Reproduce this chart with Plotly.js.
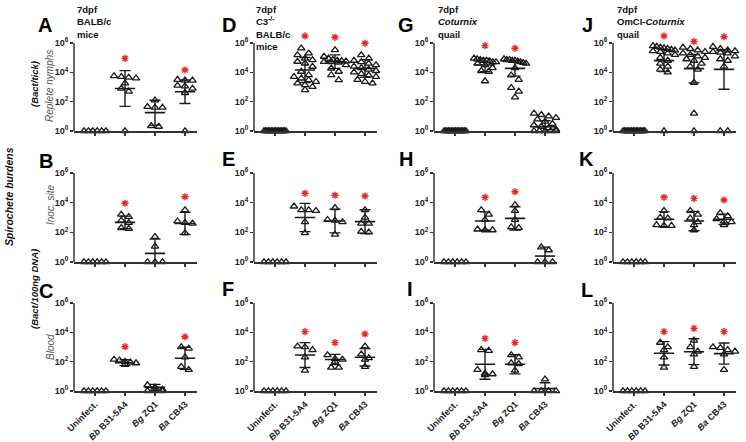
<!DOCTYPE html>
<html><head><meta charset="utf-8">
<script src="https://cdn.plot.ly/plotly-3.0.1.min.js"></script>
<style>html,body{margin:0;padding:0;background:#fff}#chart{width:746px;height:442px}</style>
</head><body><div id="chart"></div>
<script>
// ---------- labels ----------
const categories = ['Uninfect.', '<i>Bb</i> B31-5A4', '<i>Bg</i> ZQ1', '<i>Ba</i> CB43'];
const yTickVals = [1, 1e2, 1e4, 1e6];
const yTickText = ['10<sup>0</sup>', '10<sup>2</sup>', '10<sup>4</sup>', '10<sup>6</sup>'];
const panelLetters = ['A','B','C','D','E','F','G','H','I','J','K','L'];
const columnTitles = ['7dpf<br>BALB/c<br>mice', '7dpf<br>C3<sup>-/-</sup><br>BALB/c<br>mice', '7dpf<br><i>Coturnix</i><br>quail', '7dpf<br>OmCI-<i>Coturnix</i><br>quail'];
const rowTitles = ['Replete nymphs', 'Inoc. site', 'Blood'];

// ---------- data: log10 spirochete burden per animal, categories [Uninfect, Bb, Bg, Ba] ----------
const ptsA = [[0,0,0,0,0,0],[3.75,3.7,3.65,3.6,3.25,2.9,2.7,0],[2.1,1.65,1.6,1.6,0.35,0.3],[3.5,3.45,3.45,3.1,3.05,2.9,2.6,0]];
const ptsB = [[0,0,0,0,0,0],[3.2,3.05,2.8,2.65,2.3,2.25],[1.7,1.05,0,0,0],[3.5,2.75,2.65,2.6,1.95]];
const ptsC = [[0,0,0,0,0,0],[2.15,2.1,2.0,1.95,1.9,1.8],[0.4,0.25,0.1,0,0,0],[3.0,2.9,2.3,1.65,1.45]];
const ptsD = [[0,0,0,0,0,0,0,0,0,0,0,0,0,0,0,0],[5.64,5.3,5.18,4.95,4.84,4.73,4.61,4.39,4.05,3.82,3.7,3.59,3.48,3.36,3.25,3.14,3.02,2.8],[5.52,5.07,4.95,4.85,4.8,4.78,4.75,4.72,4.7,4.68,4.5,4.27,4.05,3.82,3.48],[5.18,4.95,4.8,4.7,4.6,4.5,4.4,4.3,4.2,4.1,4.0,3.9,3.8,3.7,3.5,3.36,3.25]];
const ptsE = [[0,0,0,0,0,0],[3.75,3.5,3.5,3.45,2.7,1.95],[3.65,2.85,2.8,2.7,1.85],[3.5,3.0,2.6,2.6,2.05,2.0]];
const ptsF = [[0,0,0,0,0,0],[3.05,3.0,2.8,2.3,1.4],[2.45,2.2,2.15,2.0,1.6,1.6],[3.05,2.5,2.25,2.15,1.65]];
const ptsG = [[0,0,0,0,0,0,0,0,0,0,0,0,0,0,0,0],[4.95,4.9,4.85,4.8,4.8,4.75,4.7,4.7,4.6,4.5,4.3,4.1,4.05,3.4],[4.9,4.85,4.85,4.8,4.8,4.75,4.7,4.65,4.6,4.3,3.8,3.5,2.95,2.7,2.3],[1.2,1.1,1.0,0.9,0.8,0.65,0.5,0.4,0.3,0.2,0.1,0,0,0,0,0]];
const ptsH = [[0,0,0,0,0,0],[3.5,3.2,2.85,2.2,2.15,2.15],[3.85,3.45,2.85,2.35,2.3],[1.0,0.8,0,0,0]];
const ptsI = [[0,0,0,0,0,0],[2.8,2.75,1.45,1.2,1.15,1.1],[2.45,2.3,1.9,1.85,1.4],[0.8,0,0,0,0]];
const ptsJ = [[0,0,0,0,0,0,0,0,0,0,0,0,0,0,0,0],[5.8,5.75,5.7,5.65,5.6,5.55,5.5,5.45,5.4,5.3,5.2,5.0,4.8,4.6,4.4,4.2,4.0,0],[5.7,5.6,5.5,5.4,5.3,5.2,5.1,5.0,4.9,4.8,4.6,4.4,4.2,3.3,1.2,0],[5.75,5.6,5.5,5.45,5.4,5.35,5.3,5.1,4.9,4.8,4.4,0,0]];
const ptsK = [[0,0,0,0,0,0],[3.45,3.0,2.95,2.5,2.45,2.45],[3.45,3.2,2.95,2.7,2.5,2.15],[3.3,3.1,2.9,2.75,2.7,2.5]];
const ptsL = [[0,0,0,0,0,0],[3.3,3.0,2.8,2.3,1.6],[3.45,3.0,2.7,2.5,1.65],[3.0,2.95,2.8,2.7,2.5,1.45]];

// geometric mean (log10) and SD (log10) as drawn
const meanA = [null,2.9,1.25,2.68],  sdA = [null,1.22,0.85,0.8];
const meanB = [null,2.67,0.58,2.6],  sdB = [null,0.42,0.97,0.75];
const meanC = [null,1.93,0.25,2.23], sdC = [null,0.2,0.2,0.75];
const meanD = [null,4.16,4.73,4.27], sdD = [null,0.85,0.46,0.6];
const meanE = [null,3.0,2.76,2.72],  sdE = [null,0.95,0.8,0.8];
const meanF = [null,2.45,2.15,2.3],  sdF = [null,0.85,0.35,0.6];
const meanG = [null,4.5,4.27,0.3],   sdG = [null,0.45,0.53,0.4];
const meanH = [null,2.76,2.94,0.4],  sdH = [null,0.62,0.78,0.6];
const meanI = [null,1.82,1.82,0.16], sdI = [null,1.02,0.65,0.4];
const meanJ = [null,4.8,4.25,4.2],   sdJ = [null,0.75,0.97,1.35];
const meanK = [null,2.88,2.76,2.88], sdK = [null,0.5,0.65,0.35];
const meanL = [null,2.57,2.68,2.55], sdL = [null,0.8,0.88,0.72];

// significance asterisks (log10 height)
const starA = [null,4.95,null,4.16];
const starB = [null,3.96,null,4.4];
const starC = [null,3.02,null,3.7];
const starD = [null,6.48,6.39,5.98];
const starE = [null,4.63,4.5,4.45];
const starF = [null,4.05,3.3,3.89];
const starG = [null,5.82,5.64,null];
const starH = [null,4.36,4.74,null];
const starI = [null,3.59,3.3,null];
const starJ = [null,6.48,6.1,6.43];
const starK = [null,4.36,4.29,4.18];
const starL = [null,4.05,4.27,4.05];

const panelPts = [ptsA,ptsB,ptsC,ptsD,ptsE,ptsF,ptsG,ptsH,ptsI,ptsJ,ptsK,ptsL];
const panelMean = [meanA,meanB,meanC,meanD,meanE,meanF,meanG,meanH,meanI,meanJ,meanK,meanL];
const panelSd = [sdA,sdB,sdC,sdD,sdE,sdF,sdG,sdH,sdI,sdJ,sdK,sdL];
const panelStar = [starA,starB,starC,starD,starE,starF,starG,starH,starI,starJ,starK,starL];

// ---------- geometry ----------
const W = 746, H = 442;
const colLeft = [74, 254, 434, 613];
const axW = 123;
const rowTop = [43, 173, 303];   // pixel of 10^6
const rowBot = [131, 262, 391];  // pixel of 10^0
const yMaxLog = 6.8;             // headroom above 10^6 for asterisks
const xRange = [-0.7, 3.4];
const pxPerCat = axW / (xRange[1] - xRange[0]);
const FONT = 'Liberation Sans, Arial, sans-serif';
const INK = '#1a1a1a';

function swarm(vals, pxPerDec) {
  const idx = vals.map((v, i) => i).sort((a, b) => vals[b] - vals[a]);
  const off = new Array(vals.length).fill(0);
  let bins = [], cur = [];
  idx.forEach(i => {
    if (cur.length && (vals[cur[0]] - vals[i]) * pxPerDec > 5) { bins.push(cur); cur = []; }
    cur.push(i);
  });
  if (cur.length) bins.push(cur);
  bins.forEach(b => {
    const n = b.length;
    const s = n > 1 ? Math.min(7.5, 22 / (n - 1)) : 0;
    b.forEach((i, k) => { off[i] = (k - (n - 1) / 2) * s / pxPerCat; });
  });
  return off;
}

const traces = [];
const layout = {
  width: W, height: H, margin: {l:0, r:0, t:0, b:0},
  paper_bgcolor: '#fff', plot_bgcolor: '#fff', showlegend: false,
  annotations: [], shapes: []
};

for (let k = 0; k < 12; k++) {
  const c = Math.floor(k / 3), r = k % 3;
  const n = k + 1;
  const xa = n === 1 ? 'x' : 'x' + n, ya = n === 1 ? 'y' : 'y' + n;
  const pxPerDec = (rowBot[r] - rowTop[r]) / 6;
  const topPx = rowBot[r] - yMaxLog * pxPerDec;
  layout['xaxis' + (n === 1 ? '' : n)] = {
    domain: [colLeft[c] / W, (colLeft[c] + axW) / W],
    range: xRange, anchor: ya, showgrid: false, zeroline: false,
    showline: true, linecolor: '#333', linewidth: 1.5,
    tickmode: 'array', tickvals: [0,1,2,3], ticktext: categories,
    ticks: 'outside', ticklen: 3, tickwidth: 1.2, tickcolor: '#333',
    showticklabels: r === 2, tickangle: -45,
    tickfont: {family: FONT, size: 9, color: '#222', weight: 'bold'}
  };
  layout['yaxis' + (n === 1 ? '' : n)] = {
    domain: [1 - rowBot[r] / H, 1 - topPx / H],
    type: 'log', range: [0, yMaxLog], anchor: xa, showgrid: false, zeroline: false,
    showline: false,
    tickmode: 'array', tickvals: yTickVals, ticktext: yTickText,
    ticks: 'outside', ticklen: 3, tickwidth: 1.2, tickcolor: '#333',
    tickfont: {family: FONT, size: 9, color: '#222', weight: 'bold'}
  };
  // y axis line from 10^0 to 10^6 only
  layout.shapes.push({type:'line', xref: xa + ' domain', x0:0, x1:0, yref:'paper',
    y0: 1 - rowBot[r] / H, y1: 1 - rowTop[r] / H, line:{color:'#333', width:1.5}});

  const pts = panelPts[k];
  const px = [], py = [];
  pts.forEach((vals, ci) => {
    const off = swarm(vals, pxPerDec);
    vals.forEach((v, i) => { px.push(ci + off[i]); py.push(Math.pow(10, v)); });
  });
  traces.push({type:'scatter', mode:'markers', x:px, y:py, xaxis:xa, yaxis:ya, cliponaxis:false,
    marker:{symbol:'triangle-up-open', size:6.5, color:INK, line:{width:1.3, color:INK}}, hoverinfo:'skip'});
  const mx = [], my = [], ep = [], em = [];
  panelMean[k].forEach((m, ci) => {
    if (m === null) return;
    const s = panelSd[k][ci];
    mx.push(ci); my.push(Math.pow(10, m));
    ep.push(Math.pow(10, m + s) - Math.pow(10, m));
    em.push(Math.pow(10, m) - Math.pow(10, m - s));
  });
  traces.push({type:'scatter', mode:'markers', x:mx, y:my, xaxis:xa, yaxis:ya, cliponaxis:true,
    marker:{symbol:'line-ew-open', size:14.5, color:INK, line:{width:1.6, color:INK}},
    error_y:{type:'data', symmetric:false, array:ep, arrayminus:em, color:INK, thickness:1.4, width:5.5},
    hoverinfo:'skip'});
  const sx = [], sy = [];
  panelStar[k].forEach((s, ci) => { if (s !== null) { sx.push(ci); sy.push(Math.pow(10, s)); } });
  traces.push({type:'scatter', mode:'markers', x:sx, y:sy, xaxis:xa, yaxis:ya, cliponaxis:false,
    marker:{symbol:'asterisk-open', size:6, color:'#e8272a', line:{width:1.4, color:'#e8272a'}}, hoverinfo:'skip'});
}

// ---------- annotations ----------
function ann(text, xpx, ypx, opts) {
  layout.annotations.push(Object.assign({text: text, xref:'paper', yref:'paper', x: xpx / W, y: 1 - ypx / H,
    showarrow:false, xanchor:'center', yanchor:'middle', font:{family:FONT, size:10, color:'#111'}}, opts || {}));
}
const letterPos = [[45,25],[46,161],[46,291],[229,25],[228,159],[228,289],[406,25],[406,159],[410,289],[587,25],[586,159],[587,290]];
panelLetters.forEach((L, k) => ann('<b>' + L + '</b>', letterPos[k][0], letterPos[k][1], {font:{family:FONT, size:20, color:'#000'}}));
const titleX = [75, 254, 436, 615];
columnTitles.forEach((t, c) => ann('<b>' + t + '</b>', titleX[c], 2, {xanchor:'left', yanchor:'top', align:'left', font:{family:FONT, size:9.5, color:'#111'}}));
const rowTitleY = [86, 205, 347];
rowTitles.forEach((t, r) => ann('<i>' + t + '</i>', 50, rowTitleY[r], {textangle:-90, font:{family:FONT, size:10, color:'#555'}}));
ann('<b><i>(Bact/tick)</i></b>', 34, 84, {textangle:-90, font:{family:FONT, size:9.5, color:'#111'}});
ann('<b><i>Spirochete burdens</i></b>', 9, 197, {textangle:-90, font:{family:FONT, size:10.5, color:'#111'}});
ann('<b><i>(Bact/100ng DNA)</i></b>', 34, 289, {textangle:-90, font:{family:FONT, size:9.5, color:'#111'}});

Plotly.newPlot('chart', traces, layout, {staticPlot:true, displayModeBar:false});
</script>
</body></html>
